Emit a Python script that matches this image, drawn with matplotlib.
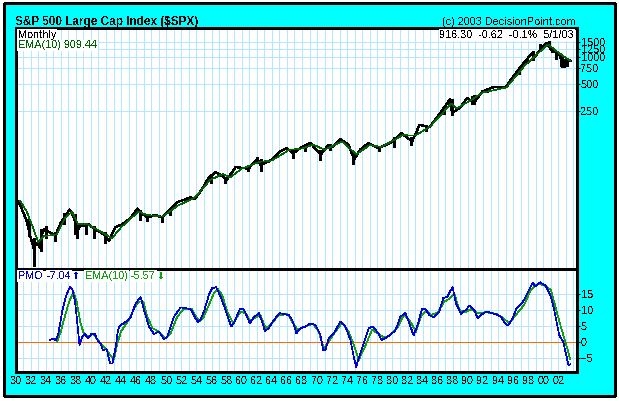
import matplotlib
matplotlib.use("Agg")
import matplotlib.pyplot as plt
from matplotlib.patches import Rectangle
from matplotlib.ticker import NullLocator

plt.rcParams['font.family'] = ['Liberation Sans', 'DejaVu Sans']
plt.rcParams['text.antialiased'] = False
plt.rcParams['lines.antialiased'] = False
plt.rcParams['patch.antialiased'] = False

W, H = 619, 401

# price
price_years = [1930.1, 1930.6, 1931.1, 1931.5, 1932.0, 1932.4, 1932.85, 1933.2, 1933.5, 1933.8, 1934.4, 1935.3,
               1935.95, 1936.8, 1937.2, 1937.8, 1938.2, 1938.5, 1939.7, 1940.6, 1941.7, 1942.4, 1943.2, 1944.1,
               1945.2, 1946.2, 1947.0, 1947.6, 1948.5, 1949.5, 1950.5, 1951.4, 1953.2, 1953.8, 1954.8, 1955.6,
               1956.5, 1957.2, 1958.0, 1959.2, 1960.9, 1962.1, 1962.5, 1963.8, 1965.1, 1966.0, 1966.8, 1968.0,
               1969.1, 1970.5, 1971.5, 1972.1, 1973.1, 1974.2, 1974.9, 1975.7, 1976.8, 1978.1, 1979.7, 1981.2,
               1982.6, 1983.6, 1984.9, 1986.5, 1987.6, 1987.9, 1989.0, 1989.9, 1990.8, 1991.9, 1993.4, 1995.0,
               1996.3, 1997.4, 1998.5, 1998.8, 2000.4, 2001.2, 2002.1, 2002.5, 2003.0, 2003.6]
price_close = [24.6, 21.6, 17, 14, 9.2, 7.0, 8, 7.1, 10, 11.5, 10.7, 9.7,
               13.2, 17, 19, 15, 10.7, 12.2, 12.9, 11.3, 10, 8.4, 11.9, 12.9,
               15, 19.5, 16.5, 15.5, 16.5, 15.5, 19, 23, 26, 25, 33, 43.5,
               50, 47, 41, 57.5, 55, 72, 60, 68, 86, 94, 82, 97,
               107, 80, 102, 98, 119, 102, 70, 90, 107, 94, 107, 138,
               112, 173, 162, 245, 335, 235, 272, 345, 305, 410, 460, 460,
               650, 860, 1110, 1000, 1460, 1160, 1110, 850, 880, 915]

price_ema_years = [1930.6, 1931.5, 1932.3, 1933.0, 1933.8, 1935.5, 1936.5, 1937.5, 1938.3, 1939.5, 1941.5, 1942.8,
                   1944.0, 1946.3, 1947.5, 1949.5, 1951.5, 1953.8, 1955.8, 1957.5, 1958.5, 1960.0, 1962.4, 1964.0,
                   1966.3, 1968.0, 1969.5, 1971.0, 1973.3, 1975.2, 1977.0, 1978.5, 1981.4, 1983.0, 1985.0, 1987.8,
                   1988.5, 1990.2, 1992.0, 1995.1, 1997.5, 2000.6, 2002.0, 2003.6]
price_ema = [24, 18, 12, 8.2, 9.5, 10, 15, 18, 13, 13, 10.5, 9,
             12, 18, 16.5, 15.8, 21, 26, 41, 48, 44, 55, 66, 68,
             90, 93, 103, 90, 112, 80, 102, 97, 132, 130, 165, 300,
             265, 320, 400, 455, 800, 1400, 1130, 909]

# low/high bars sticking out of the close line
spike_years = [1931.8, 1932.5, 1933.4, 1934.0, 1935.2, 1936.4, 1937.9, 1938.2, 1939.3, 1940.4, 1941.9, 1946.5,
               1947.5, 1949.4, 1950.5, 1955.9, 1957.8, 1960.8, 1962.5, 1966.8, 1968.4, 1970.4, 1971.7, 1974.8,
               1978.2, 1980.2, 1982.5, 1984.5, 1986.8, 1987.5, 1987.9, 1990.5, 1990.8, 1992.5, 1996.8, 1997.8,
               1998.7, 1999.5, 2000.8, 2001.7, 2002.4, 2002.5, 2002.8, 2003.2]
spike_lows = [9.5, 4.4, 6.5, 9, 8.5, 13, 10, 9.0, 10, 9, 8, 14.5,
              14, 13.8, 16.5, 38, 38, 52, 52, 73, 87, 69, 90, 62,
              87, 98, 102, 147, 230, 280, 224, 295, 295, 400, 640, 850,
              923, 1250, 1300, 960, 800, 776, 768, 800]
spike_highs = [15, 9, 11.5, 12.5, 10.5, 17.5, 17, 13, 13.5, 12.5, 10.5, 19,
               16.5, 16, 20, 46, 44, 58, 70, 92, 100, 90, 104, 85,
               100, 125, 125, 170, 260, 335, 337, 365, 370, 430, 760, 980,
               1190, 1400, 1530, 1180, 1090, 1000, 960, 950]

# PMO panel
pmo_years = [1934.59, 1935.03, 1935.34, 1935.65, 1936.23, 1936.67, 1937.24, 1937.55, 1937.86, 1938.12, 1938.48,
             1938.87, 1939.18, 1939.62, 1940.07, 1940.51, 1940.86, 1941.30, 1941.57, 1942.10, 1942.54, 1942.85,
             1943.29, 1943.60, 1943.86, 1944.48, 1945.28, 1945.94, 1946.60, 1947.04, 1947.70, 1948.37, 1949.03,
             1949.69, 1950.13, 1951.02, 1951.90, 1953.22, 1953.75, 1954.19, 1954.55, 1954.99, 1955.65, 1956.09,
             1956.62, 1957.19, 1957.85, 1958.61, 1958.96, 1959.76, 1960.28, 1961.08, 1961.61, 1962.27, 1962.71,
             1963.07, 1963.60, 1964.26, 1965.05, 1966.25, 1966.69, 1967.26, 1967.79, 1968.45, 1969.11, 1969.78,
             1970.44, 1970.79, 1971.10, 1971.55, 1972.21, 1973.09, 1973.75, 1974.42, 1974.86, 1975.17, 1975.52,
             1976.19, 1976.85, 1977.42, 1978.17, 1978.53, 1979.28, 1980.38, 1981.04, 1981.71, 1982.23, 1982.80,
             1983.33, 1983.91, 1984.35, 1984.88, 1985.41, 1986.20, 1986.73, 1987.31, 1987.62, 1987.97, 1988.41,
             1989.07, 1989.82, 1990.18, 1990.84, 1991.28, 1991.72, 1992.47, 1993.71, 1994.37, 1994.81, 1995.34,
             1995.92, 1996.45, 1997.24, 1997.90, 1998.57, 1999.01, 1999.58, 2000.34, 2001.00, 2001.44, 2002.10,
             2002.63, 2002.98, 2003.34, 2003.60]
pmo_vals = [0.8, 1.0, 0.6, 2.3, 10.1, 14.3, 17.4, 16.4, 13.2, 8.0, -0.8,
            1.8, 2.6, 1.3, 2.6, 2.6, 0.7, -0.5, -2.4, -2.2, -6.6, -6.6,
            -1.4, 3.9, 5.2, 6.1, 7.8, 12.2, 14.1, 10.1, 4.9, 2.6, 3.3,
            0.9, 1.8, 8.0, 10.9, 10.4, 8.0, 6.3, 7.2, 9.6, 14.8, 16.9,
            17.2, 14.3, 10.1, 4.9, 5.9, 10.4, 10.3, 5.9, 7.8, 9.1, 6.5,
            3.5, 4.4, 7.0, 9.1, 8.5, 7.0, 2.8, 4.4, 4.9, 5.9, 5.4,
            2.3, -2.4, -2.4, 1.3, 2.8, 6.5, 4.9, 0.7, -4.5, -7.8, -5.0,
            -0.3, 4.4, 4.9, 2.6, 0.7, 1.6, 3.6, 8.0, 9.1, 5.9, 2.1,
            5.4, 10.4, 10.4, 8.5, 7.8, 9.6, 13.8, 14.3, 15.8, 17.2, 12.2,
            8.9, 10.3, 11.5, 10.1, 7.5, 8.5, 9.6, 8.75, 8.0, 6.3, 5.2,
            7.5, 10.6, 12.4, 15.3, 18.6, 17.4, 18.75, 17.6, 14.3, 10.1, 2.3,
            0.2, -3.4, -7.1, -6.9]

ema_years = [1935.56, 1936.00, 1936.53, 1937.11, 1937.68, 1938.12, 1938.57, 1939.01, 1939.62, 1940.33, 1941.08,
             1941.96, 1942.54, 1943.07, 1943.51, 1944.04, 1945.06, 1945.72, 1946.38, 1946.95, 1947.48, 1948.15,
             1949.03, 1949.91, 1950.57, 1951.46, 1952.25, 1953.44, 1953.89, 1954.46, 1954.99, 1955.65, 1956.31,
             1956.84, 1957.41, 1958.08, 1958.87, 1959.85, 1960.51, 1961.17, 1961.83, 1962.49, 1963.16, 1963.82,
             1964.92, 1966.12, 1966.82, 1967.44, 1968.68, 1969.47, 1970.22, 1970.88, 1971.55, 1972.43, 1973.31,
             1974.19, 1974.86, 1975.52, 1976.27, 1977.28, 1978.17, 1978.75, 1979.50, 1980.60, 1981.49, 1982.23,
             1983.11, 1983.77, 1984.44, 1985.10, 1985.98, 1986.87, 1987.62, 1988.19, 1988.85, 1989.51, 1990.40,
             1991.28, 1992.38, 1993.71, 1994.59, 1995.48, 1996.36, 1997.46, 1998.35, 1999.23, 2000.11, 2001.00,
             2001.66, 2002.32, 2002.98, 2003.56]
ema_vals = [0.2, 3.3, 8.0, 12.7, 15.6, 12.7, 6.5, 3.0, 1.8, 2.6, 0.2,
            -1.9, -4.0, -5.3, -0.3, 3.6, 7.0, 10.6, 12.7, 12.7, 8.0, 4.4,
            3.3, 1.3, 2.8, 8.0, 10.3, 10.3, 8.2, 6.7, 8.0, 11.7, 15.3,
            16.6, 14.8, 9.6, 5.9, 9.6, 9.1, 6.5, 7.8, 8.5, 4.4, 5.4,
            8.5, 8.75, 5.9, 3.9, 5.2, 5.7, 3.3, -1.9, 0.2, 3.3, 6.1,
            3.3, -0.8, -5.5, -1.9, 3.9, 2.6, 1.6, 1.8, 4.4, 8.5, 7.0,
            3.3, 8.0, 9.9, 8.5, 9.3, 12.7, 13.75, 15.3, 10.1, 9.3, 10.3,
            9.1, 9.4, 8.9, 7.8, 5.9, 8.5, 11.7, 16.4, 18.2, 17.9, 16.4,
            10.6, 4.9, -0.3, -5.2]

price_ticks = [250, 500, 750, 1000, 1250, 1500]
pmo_ticks = [-5, 0, 5, 10, 15]
year_ticks = list(range(1930, 2004, 2))
grid_color = '#b4e6ff'
blue = '#0000d8'
green = '#10a010'
dark_green = '#006400'
font_size = 7.8


def box(left, top, right, bottom):
    return [left / W, 1 - bottom / H, (right - left) / W, (bottom - top) / H]


def put(px, py, s, **kw):
    kw.setdefault('fontsize', font_size)
    kw.setdefault('va', 'center')
    return fig.text(px / W, 1 - py / H, s, **kw)


fig = plt.figure(figsize=(W / 100, H / 100), dpi=100, facecolor='white')
fig.add_artist(Rectangle((3.5 / W, 1 - 396 / H), 611 / W, 393 / H, transform=fig.transFigure,
                         facecolor='#00ffff', edgecolor='black', linewidth=1, zorder=-1))

ax1 = fig.add_axes(box(15.5, 28, 576.7, 269))
ax2 = fig.add_axes(box(15.5, 269, 576.7, 372))

xlim = (1930.1, 2004.43)
for ax in (ax1, ax2):
    ax.set_facecolor('white')
    ax.set_xlim(*xlim)
    ax.set_xticks(year_ticks)
    ax.set_xticks(range(1931, 2005), minor=True)
    ax.grid(True, which='both', axis='x', color=grid_color, linewidth=0.72)
    ax.grid(True, which='major', axis='y', color=grid_color, linewidth=0.72)
    ax.set_axisbelow(True)
    ax.yaxis.tick_right()
    for sp in ax.spines.values():
        sp.set_linewidth(1.0)
    ax.tick_params(axis='y', which='major', length=2, width=0.72, pad=1, labelsize=font_size)
    ax.tick_params(axis='x', which='both', length=0)

# top panel
ax1.set_yscale('log')
ax1.set_ylim(4.05, 2140)
ax1.set_yticks(price_ticks)
ax1.set_yticklabels([str(t) for t in price_ticks])
ax1.yaxis.set_minor_locator(NullLocator())
ax1.tick_params(axis='x', labelbottom=False)
ax1.vlines(spike_years, spike_lows, spike_highs, color='black', linewidth=0.8)
ax1.plot(price_years, price_close, color='black', linewidth=1.0, solid_joinstyle='round')
ax1.plot(price_ema_years, price_ema, color=dark_green, linewidth=0.45)

# bottom panel
ax2.set_ylim(-9.3, 22.9)
ax2.set_yticks(pmo_ticks)
ax2.set_xticklabels([f"{y % 100:02d}" for y in year_ticks], fontsize=font_size)
ax2.tick_params(axis='x', pad=3)
ax2.axhline(0, color='#ff6a00', linewidth=0.72, zorder=1.5)
ax2.plot(ema_years, ema_vals, color=green, linewidth=0.5)
ax2.plot(pmo_years, pmo_vals, color=blue, linewidth=0.5)

# titles and labels
put(15, 21.5, 'S&P 500 Large Cap Index ($SPX)', fontsize=8.5, fontweight='bold')
put(576, 22, '(c) 2003 DecisionPoint.com', ha='right')
bg = dict(facecolor='white', edgecolor='none', pad=0.5)
put(18, 35, 'Monthly', bbox=bg)
put(18, 45.5, 'EMA(10) 909.44', color=dark_green, bbox=bg)
put(574, 35, '916.30  -0.62  -0.1%  5/1/03', ha='right', bbox=bg)
put(18, 276, 'PMO', color=blue, bbox=bg)
put(47, 276, '-7.04', color=blue, bbox=bg)
put(76.5, 276, '\u2b06', color=blue, ha='center', fontsize=7, family='DejaVu Sans')
put(85, 276, 'EMA(10)', color=green, bbox=bg)
put(131, 276, '-5.57', color=green, bbox=bg)
put(161.5, 276, '\u2b07', color=green, ha='center', fontsize=7, family='DejaVu Sans')

plt.savefig('out.png', dpi=100, facecolor=fig.get_facecolor())
